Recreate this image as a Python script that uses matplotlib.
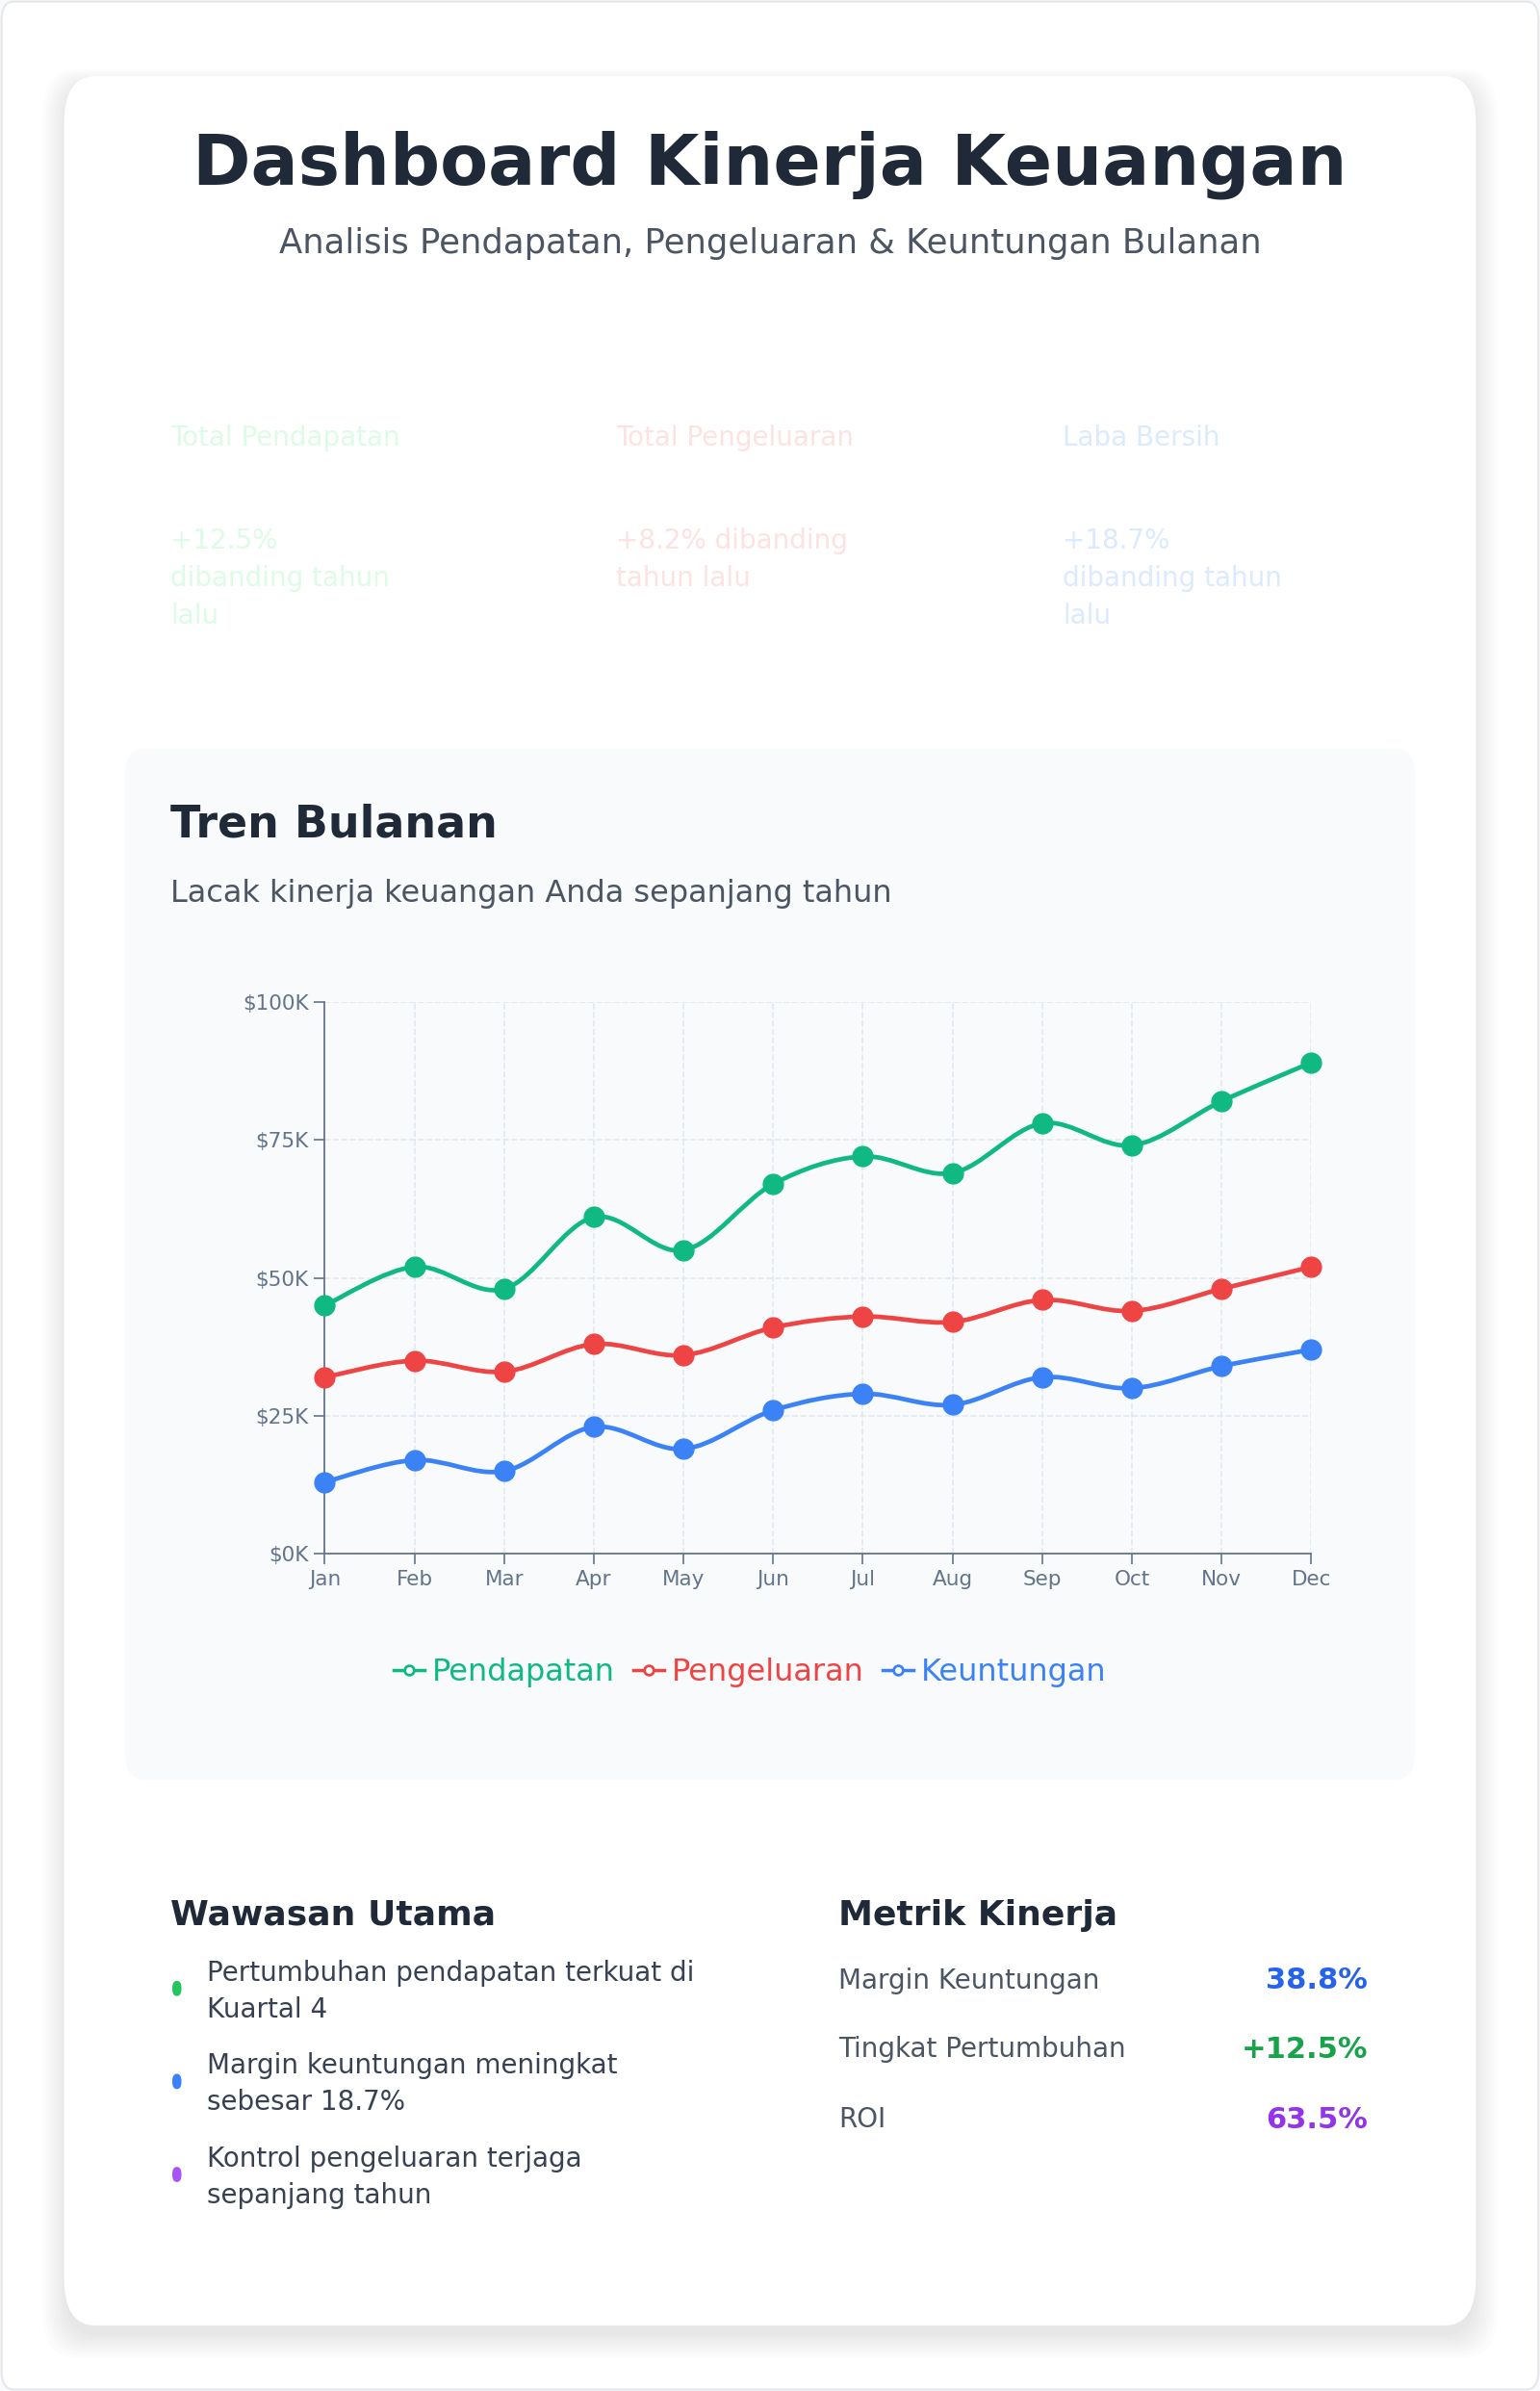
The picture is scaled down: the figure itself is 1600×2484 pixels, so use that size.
import matplotlib.pyplot as plt
import numpy as np
from matplotlib.patches import FancyBboxPatch, PathPatch
from matplotlib.path import Path
from matplotlib.lines import Line2D

months = ['Jan', 'Feb', 'Mar', 'Apr', 'May', 'Jun', 'Jul', 'Aug', 'Sep', 'Oct', 'Nov', 'Dec']
pendapatan = [45, 52, 48, 61, 55, 67, 72, 69, 78, 74, 82, 89]
pengeluaran = [32, 35, 33, 38, 36, 41, 43, 42, 46, 44, 48, 52]
keuntungan = [13, 17, 15, 23, 19, 26, 29, 27, 32, 30, 34, 37]
y_ticks = [0, 25, 50, 75, 100]
y_labels = ['$0K', '$25K', '$50K', '$75K', '$100K']

W, H = 1010, 1568
fig = plt.figure(figsize=(16, 24.84), dpi=100)
fig.patch.set_facecolor('#f9fafb')

def fx(x):
    return x / W

def fy(y):
    return 1 - y / H

def box(x0, y0, x1, y1, color, r=0.012, **kw):
    p = FancyBboxPatch((fx(x0), fy(y1)), fx(x1) - fx(x0), fy(y0) - fy(y1),
                       boxstyle='round,pad=0,rounding_size=%f' % r,
                       transform=fig.transFigure, facecolor=color, zorder=-5, **kw)
    fig.add_artist(p)

# outer frame
box(1, 1, 1009, 1567, 'white', r=0.008, edgecolor='#e5e7eb', linewidth=1.5)
# card shadow
for i in range(8):
    box(42 - i * 2, 56 - i * 1.5, 968 + i * 2, 1532 + i * 2, 'black', r=0.02,
        alpha=0.012, linewidth=0)
box(42, 50, 968, 1525, 'white', r=0.02, linewidth=0)

fig.text(fx(505), fy(108), 'Dashboard Kinerja Keuangan', ha='center', va='center',
         fontsize=52.5, fontweight='bold', color='#1f2937')
fig.text(fx(505), fy(160), 'Analisis Pendapatan, Pengeluaran & Keuntungan Bulanan',
         ha='center', va='center', fontsize=25.5, color='#4b5563')

# faint summary cards
cards = [(112, 'Total Pendapatan', '+12.5%\ndibanding tahun\nlalu', '#dcfce7'),
         (404, 'Total Pengeluaran', '+8.2% dibanding\ntahun lalu', '#fee2e2'),
         (697, 'Laba Bersih', '+18.7%\ndibanding tahun\nlalu', '#dbeafe')]
for x, t, s, c in cards:
    fig.text(fx(x), fy(287), t, ha='left', va='center', fontsize=20, color=c)
    fig.text(fx(x), fy(346), s, ha='left', va='top', fontsize=20, color=c, linespacing=1.5)

# chart panel
box(82, 491, 928, 1167, '#f8fafc', r=0.012, linewidth=0)
fig.text(fx(112), fy(541), 'Tren Bulanan', ha='left', va='center',
         fontsize=33, fontweight='bold', color='#1f2937')
fig.text(fx(112), fy(586), 'Lacak kinerja keuangan Anda sepanjang tahun', ha='left',
         va='center', fontsize=23, color='#4b5563')

ax = fig.add_axes([fx(213), fy(1019), fx(860) - fx(213), fy(657) - fy(1019)])
ax.set_zorder(5)
ax.set_facecolor('#f8fafc')
ax.set_xlim(0, 11)
ax.set_ylim(0, 100)
x = np.arange(len(months))

def smooth(ax, ys, color):
    pts = list(zip(x, ys))
    verts = [pts[0]]
    codes = [Path.MOVETO]
    n = len(pts)
    for i in range(n - 1):
        p0 = np.array(pts[max(i - 1, 0)], float)
        p1 = np.array(pts[i], float)
        p2 = np.array(pts[i + 1], float)
        p3 = np.array(pts[min(i + 2, n - 1)], float)
        c1 = p1 + (p2 - p0) / 6
        c2 = p2 - (p3 - p1) / 6
        verts += [tuple(c1), tuple(c2), tuple(p2)]
        codes += [Path.CURVE4] * 3
    ax.add_patch(PathPatch(Path(verts, codes), facecolor='none', edgecolor=color,
                           linewidth=3.4, zorder=3))
    ax.plot(x, ys, 'o', color=color, markersize=15, zorder=4, clip_on=False)

series = [('Pendapatan', pendapatan, '#10b981'),
          ('Pengeluaran', pengeluaran, '#ef4444'),
          ('Keuntungan', keuntungan, '#3b82f6')]
for name, ys, c in series:
    smooth(ax, ys, c)

ax.set_xticks(x)
ax.set_xticklabels(months)
ax.set_yticks(y_ticks)
ax.set_yticklabels(y_labels)
ax.tick_params(labelsize=15.5, colors='#64748b', length=8, width=1.2, pad=4)
ax.grid(True, linestyle='--', color='#e2e8f0', linewidth=1.2)
for s in ['top', 'right']:
    ax.spines[s].set_visible(False)
for s in ['left', 'bottom']:
    ax.spines[s].set_color('#64748b')
    ax.spines[s].set_linewidth(1.3)

handles = [Line2D([0], [0], color=c, lw=2.5, marker='o', markersize=7,
                  markerfacecolor='white', markeredgewidth=2) for _, _, c in series]
leg = fig.legend(handles, [n for n, _, _ in series], loc='center',
                 bbox_to_anchor=(fx(492), fy(1097)), ncol=3, frameon=False,
                 fontsize=23, labelcolor=[c for _, _, c in series],
                 handlelength=1.0, handletextpad=0.25, columnspacing=0.6)

# insights
fig.text(fx(112), fy(1256), 'Wawasan Utama', ha='left', va='center',
         fontsize=26, fontweight='bold', color='#1f2937')
insights = [('Pertumbuhan pendapatan terkuat di\nKuartal 4', '#22c55e', 1296),
            ('Margin keuntungan meningkat\nsebesar 18.7%', '#3b82f6', 1357),
            ('Kontrol pengeluaran terjaga\nsepanjang tahun', '#a855f7', 1418)]
for t, c, y in insights:
    fig.add_artist(FancyBboxPatch((fx(113), fy(y + 13)), fx(6), fy(0) - fy(10),
                                  boxstyle='round,pad=0,rounding_size=0.003',
                                  transform=fig.transFigure, facecolor=c, linewidth=0))
    fig.text(fx(136), fy(y - 11), t, ha='left', va='top', fontsize=20,
             color='#374151', linespacing=1.45)

fig.text(fx(550), fy(1256), 'Metrik Kinerja', ha='left', va='center',
         fontsize=26, fontweight='bold', color='#1f2937')
metrics = [('Margin Keuntungan', '38.8%', '#2563eb', 1299),
           ('Tingkat Pertumbuhan', '+12.5%', '#16a34a', 1344),
           ('ROI', '63.5%', '#9333ea', 1390)]
for t, v, c, y in metrics:
    fig.text(fx(550), fy(y), t, ha='left', va='center', fontsize=20, color='#4b5563')
    fig.text(fx(897), fy(y), v, ha='right', va='center', fontsize=22,
             fontweight='bold', color=c)

fig.savefig('out.png', dpi=100, facecolor=fig.get_facecolor())
